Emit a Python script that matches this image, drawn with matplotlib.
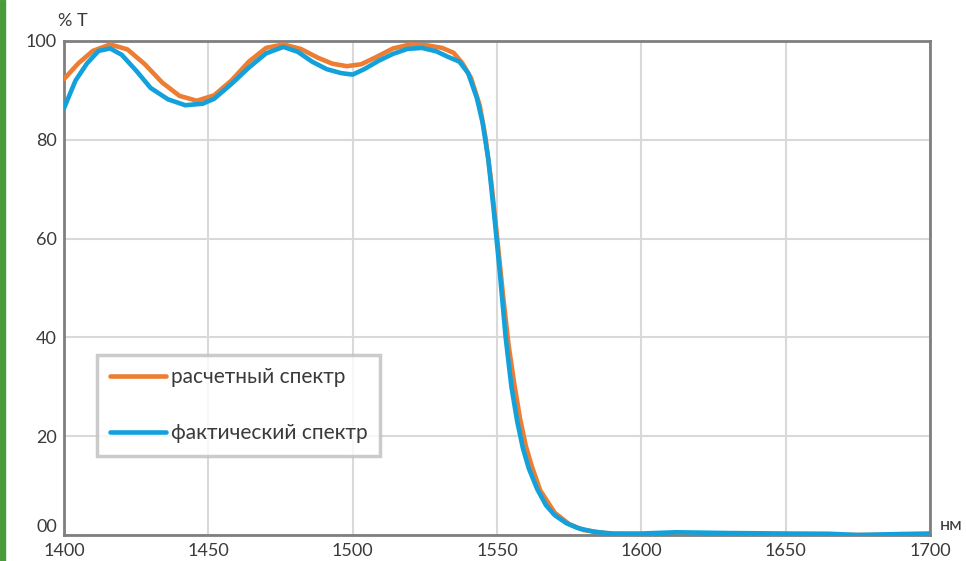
# Спектр пропускания фильтра: расчет и измерение

import numpy as np
from matplotlib import pyplot as plt
from matplotlib.patches import Rectangle

# длина волны, нм
wl_calc = [1400, 1405, 1410, 1416, 1422, 1428, 1434, 1440, 1446, 1452, 1458,
           1464, 1470, 1476, 1482, 1488, 1493, 1498, 1503, 1508, 1514, 1520,
           1526, 1531, 1535, 1538, 1541, 1544, 1546, 1548, 1550, 1552, 1554,
           1556, 1558, 1560, 1562, 1565, 1570, 1575, 1580, 1590, 1600, 1620,
           1650, 1680, 1700]
t_calc = [92.3, 95.5, 98.0, 99.3, 98.3, 95.3, 91.6, 88.9, 87.9, 89.0, 92.0,
          95.8, 98.6, 99.3, 98.4, 96.6, 95.4, 94.9, 95.3, 96.7, 98.5, 99.3,
          99.1, 98.6, 97.6, 95.5, 92.5, 87.0, 80.5, 71.5, 60.5, 49.0, 38.5,
          30.5, 23.5, 18.0, 14.0, 9.0, 4.5, 2.2, 1.0, 0.2, 0.0, 0.0,
          0.0, 0.0, 0.0]

wl_fact = [1400, 1404, 1408, 1412, 1416, 1420, 1425, 1430, 1436, 1442, 1448,
           1452, 1458, 1464, 1470, 1476, 1481, 1486, 1491, 1496, 1500, 1504,
           1509, 1514, 1519, 1524, 1529, 1533, 1537, 1540, 1543, 1545, 1547,
           1549, 1551, 1553, 1555, 1557, 1559, 1561, 1564, 1567, 1570, 1574,
           1578, 1584, 1590, 1600, 1612, 1630, 1650, 1665, 1675, 1690, 1700]
t_fact = [86.4, 92.0, 95.5, 98.0, 98.5, 97.2, 94.0, 90.5, 88.2, 87.0, 87.3,
          88.3, 91.3, 94.6, 97.5, 98.8, 97.8, 95.8, 94.3, 93.5, 93.2, 94.3,
          96.0, 97.4, 98.4, 98.6, 97.9, 96.8, 95.8, 93.5, 88.5, 83.5, 76.0,
          65.0, 53.0, 40.0, 30.0, 23.0, 17.5, 13.5, 9.2, 6.0, 4.0, 2.4,
          1.4, 0.6, 0.3, 0.3, 0.55, 0.4, 0.3, 0.25, 0.0, 0.2, 0.3]

x_ticks = [1400, 1450, 1500, 1550, 1600, 1650, 1700]
y_ticks = [0, 20, 40, 60, 80, 100]
y_labels = ['00', '20', '40', '60', '80', '100']

plt.rcParams['font.family'] = ['Lato', 'DejaVu Sans']
txt = '#3a3a3a'
fs = 13

fig = plt.figure(figsize=(9.66, 5.61), dpi=100)
fig.patches.append(Rectangle((0, 0), 5 / 966, 1, transform=fig.transFigure,
                             color='#4b9a3c', zorder=0))
ax = fig.add_axes([64 / 966, 1 - 535 / 561, 866 / 966, 494 / 561])

ax.plot(wl_calc, t_calc, color='#ED7D31', lw=3.3, label='расчетный спектр',
        solid_capstyle='round', zorder=3)
ax.plot(wl_fact, t_fact, color='#13A1DC', lw=3.3, label='фактический спектр',
        solid_capstyle='round', zorder=4)

ax.set_xlim(1400, 1700)
ax.set_ylim(0, 100)
ax.set_xticks(x_ticks)
ax.set_yticks(y_ticks)
ax.set_yticklabels(y_labels)
ax.grid(color='#d9d9d9', lw=1.5)
ax.set_axisbelow(True)
for s in ax.spines.values():
    s.set_color('#7f7f7f')
    s.set_linewidth(2)
ax.tick_params(length=0, labelsize=fs, labelcolor=txt, pad=5)
ax.tick_params(axis='x', pad=6)
# "00" приподнят, чтобы не налезал на подпись 1400
ax.get_yticklabels()[0].set_va('bottom')

ax.text(-0.007, 1.025, '% T', transform=ax.transAxes, fontsize=fs,
        color=txt, ha='left', va='bottom')
ax.text(1.011, 0.02, 'нм', transform=ax.transAxes, fontsize=fs,
        color=txt, ha='left', va='center', clip_on=False)

leg = ax.legend(loc='lower left', bbox_to_anchor=(33 / 866, 79 / 494),
                fontsize=15, frameon=True, fancybox=False, handlelength=2.7,
                handletextpad=0.25, labelspacing=1.75, borderpad=0.6,
                borderaxespad=0, labelcolor=txt)
leg.get_frame().set_edgecolor('#bfbfbf')
leg.get_frame().set_linewidth(2.5)

fig.savefig('out.png', dpi=100)
